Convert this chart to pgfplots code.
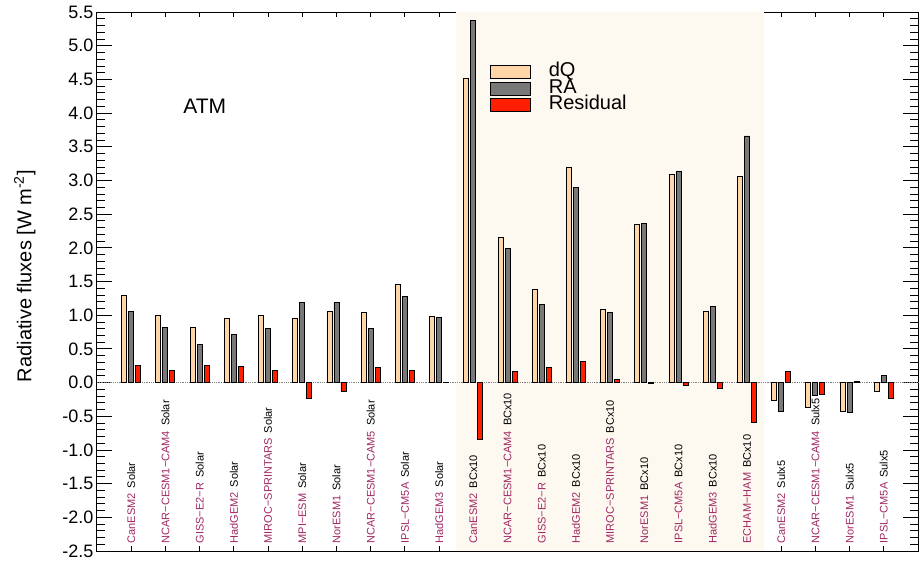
\documentclass[border=0pt]{standalone}
\usepackage{pgfplots}
\usepackage{pgfplotstable}
\pgfplotsset{compat=1.18}
\usepackage{fontspec}
\setmainfont{Liberation Sans}
\definecolor{cdq}{RGB}{255,214,168}
\definecolor{cra}{RGB}{120,120,120}
\definecolor{cres}{RGB}{255,30,0}
\definecolor{cbg}{RGB}{253,249,240}
\definecolor{purp}{RGB}{160,40,100}

\pgfplotstableread{
x dQ RA Res
0 1.30 1.06 0.25
1 1.00 0.82 0.18
2 0.82 0.57 0.25
3 0.95 0.71 0.24
4 1.00 0.80 0.18
5 0.95 1.19 -0.24
6 1.06 1.19 -0.13
7 1.04 0.80 0.22
8 1.46 1.28 0.18
9 0.98 0.97 0.005
10 4.51 5.37 -0.85
11 2.16 1.99 0.16
12 1.38 1.16 0.22
13 3.20 2.90 0.32
14 1.09 1.04 0.05
15 2.35 2.36 -0.02
16 3.09 3.14 -0.05
17 1.06 1.13 -0.08
18 3.06 3.66 -0.59
19 -0.27 -0.43 0.16
20 -0.37 -0.19 -0.18
21 -0.43 -0.45 0.015
22 -0.13 0.10 -0.24
}\data

\newcommand{\lab}[3]{\node[rotate=90, anchor=west, inner sep=0pt, font=\fontsize{11}{11}\selectfont] at (axis cs:#1,-2.39) {\textcolor{purp}{#2}\hspace{5pt}#3};}

\begin{document}
\begin{tikzpicture}
\begin{axis}[
  at={(0,0)}, anchor=south west,
  scale only axis, width=821pt, height=539pt,
  xmin=-1, xmax=23, ymin=-2.5, ymax=5.5,
  xtick=\empty,
  ytick={-2.5,-2.0,-1.5,-1.0,-0.5,0,0.5,1.0,1.5,2.0,2.5,3.0,3.5,4.0,4.5,5.0,5.5},
  minor y tick num=4,
  major tick length=15pt, minor tick length=8pt,
  every tick/.style={black, line width=0.8pt},
  axis line style={line width=1pt},
  yticklabel style={/pgf/number format/.cd, fixed, fixed zerofill, precision=1, assume math mode=true},
  ticklabel style={font=\fontsize{18}{18}\selectfont},
  ylabel={Radiative fluxes [W m\textsuperscript{-2}]},
  ylabel style={at={(axis description cs:-0.088,0.51)}, anchor=center, font=\fontsize{20}{20}\selectfont},
  clip=false,
  legend image code/.code={\draw[#1] (0pt,-6.5pt) rectangle (40pt,6.5pt);},
  legend style={at={(axis cs:10.48,4.74)}, anchor=north west, draw=none, fill=none, inner sep=0pt, row sep=0pt, column sep=18pt, font=\fontsize{20}{20}\selectfont, nodes={inner sep=0pt, text height=13pt, text depth=3.7pt}},
  legend cell align=left,
]
\addplot[fill=cbg, draw=none, forget plot] coordinates {(9.5,-2.5) (18.5,-2.5) (18.5,5.5) (9.5,5.5)} -- cycle;
\addplot[densely dotted, gray, line width=0.8pt, forget plot] coordinates {(-1,0) (23,0)};
\addplot[ybar, bar width=5pt, bar shift=-7pt, fill=cdq, draw=black, line width=0.9pt, forget plot] table[x=x, y=dQ] {\data};
\addplot[ybar, bar width=5pt, bar shift=0pt, fill=cra, draw=black, line width=0.9pt, forget plot] table[x=x, y=RA] {\data};
\addplot[ybar, bar width=5pt, bar shift=7pt, fill=cres, draw=black, line width=0.9pt, forget plot] table[x=x, y=Res] {\data};
\addlegendimage{fill=cdq, draw=black, line width=0.9pt}
\addlegendentry{dQ}
\addlegendimage{fill=cra, draw=black, line width=0.9pt}
\addlegendentry{RA}
\addlegendimage{fill=cres, draw=black, line width=0.9pt}
\addlegendentry{Residual}
\node[anchor=base west, inner sep=0pt, font=\fontsize{21}{21}\selectfont] at (axis cs:1.52,4.0) {ATM};
\lab{0}{CanESM2}{Solar}
\lab{1}{NCAR−CESM1−CAM4}{Solar}
\lab{2}{GISS−E2−R}{Solar}
\lab{3}{HadGEM2}{Solar}
\lab{4}{MIROC−SPRINTARS}{Solar}
\lab{5}{MPI−ESM}{Solar}
\lab{6}{NorESM1}{Solar}
\lab{7}{NCAR−CESM1−CAM5}{Solar}
\lab{8}{IPSL−CM5A}{Solar}
\lab{9}{HadGEM3}{Solar}
\lab{10}{CanESM2}{BCx10}
\lab{11}{NCAR−CESM1−CAM4}{BCx10}
\lab{12}{GISS−E2−R}{BCx10}
\lab{13}{HadGEM2}{BCx10}
\lab{14}{MIROC−SPRINTARS}{BCx10}
\lab{15}{NorESM1}{BCx10}
\lab{16}{IPSL−CM5A}{BCx10}
\lab{17}{HadGEM3}{BCx10}
\lab{18}{ECHAM−HAM}{BCx10}
\lab{19}{CanESM2}{Sulx5}
\lab{20}{NCAR−CESM1−CAM4}{Sulx5}
\lab{21}{NorESM1}{Sulx5}
\lab{22}{IPSL−CM5A}{Sulx5}
\end{axis}
\begin{axis}[
  at={(0,0)}, anchor=south west,
  scale only axis, width=821pt, height=539pt,
  xmin=-1, xmax=23, ymin=-2.5, ymax=5.5,
  axis line style={draw=none},
  ytick=\empty,
  xtick={0,1,2,3,4,5,6,7,8,9,19,20,21,22}, xticklabels={},
  major tick length=5pt,
  every tick/.style={black, line width=0.8pt},
]
\end{axis}
\pgfresetboundingbox
\path (-97pt,-9pt) rectangle (823pt,551pt);
\end{tikzpicture}
\end{document}
